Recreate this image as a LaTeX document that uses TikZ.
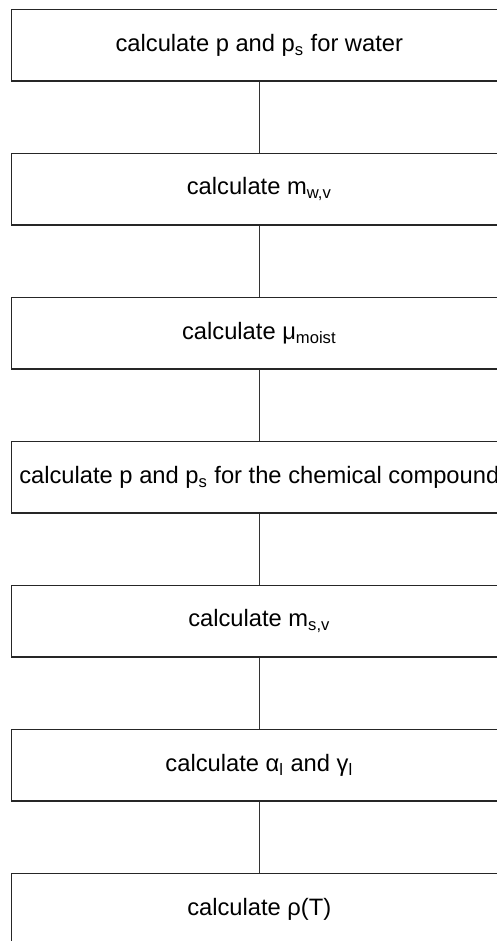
\documentclass[tikz,border=0pt]{standalone}
\usepackage{fontspec}
\setmainfont{Liberation Sans}
\begin{document}
\begin{tikzpicture}[
    calcbox/.style={
      draw=black!85,
      line width=0.6pt,
      minimum width=9.93cm,
      minimum height=1.434cm,
      align=center,
      inner sep=0pt,
      font=\fontsize{13.5}{16}\selectfont
    },
    link/.style={
      draw=black!80,
      line width=0.6pt
    }
  ]
    \useasboundingbox (0,0) rectangle (9.94,-18.82);
    \node[calcbox] (water) at (5.186,-0.903) {calculate p and p\textsubscript{s} for water};
    \node[calcbox] (mwv) at (5.186,-3.783) {calculate m\textsubscript{w,v}};
    \node[calcbox] (moist) at (5.186,-6.663) {calculate μ\textsubscript{moist}};
    \node[calcbox] (compound) at (5.186,-9.543) {calculate p and p\textsubscript{s} for the chemical compound};
    \node[calcbox] (msv) at (5.186,-12.423) {calculate m\textsubscript{s,v}};
    \node[calcbox] (alpha) at (5.186,-15.303) {calculate α\textsubscript{l} and γ\textsubscript{l}};
    \node[calcbox] (rho) at (5.186,-18.183) {calculate ρ(T)};
    \draw[link] (water.south) -- (mwv.north);
    \draw[link] (mwv.south) -- (moist.north);
    \draw[link] (moist.south) -- (compound.north);
    \draw[link] (compound.south) -- (msv.north);
    \draw[link] (msv.south) -- (alpha.north);
    \draw[link] (alpha.south) -- (rho.north);
  \end{tikzpicture}
\end{document}
